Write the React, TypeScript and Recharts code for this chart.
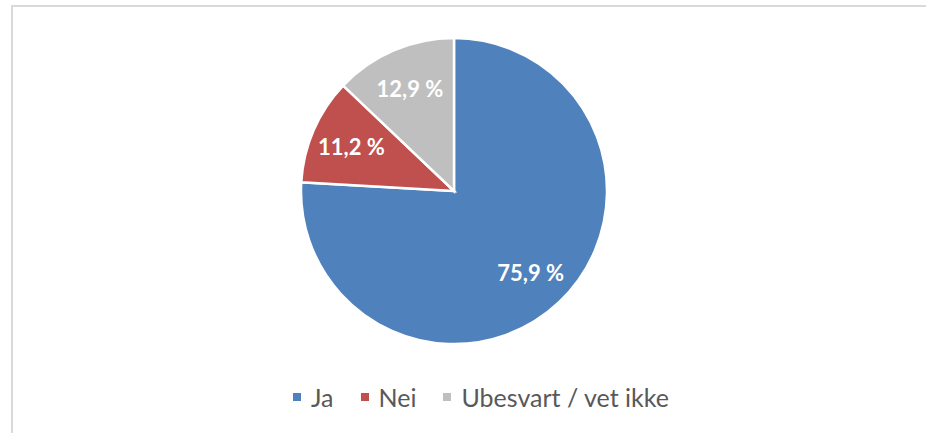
import React from 'react';
import { PieChart, Pie, Cell } from 'recharts';

const categories = ['Ja', 'Nei', 'Ubesvart / vet ikke'];
const shares = [75.9, 11.2, 12.9];
const colors = ['#4F81BD', '#C0504D', '#BFBFBF'];

const data = categories.map((name, i) => ({ name, value: shares[i] }));

const FONT = 'Lato, "Open Sans", sans-serif';
const RADIAN = Math.PI / 180;

const renderLabel = ({ cx, cy, midAngle, outerRadius, value }: any) => {
  const r = outerRadius * 0.73;
  const x = cx + r * Math.cos(-midAngle * RADIAN);
  const y = cy + r * Math.sin(-midAngle * RADIAN);
  return (
    <text
      x={x}
      y={y}
      fill="#ffffff"
      textAnchor="middle"
      dominantBaseline="central"
      fontFamily={FONT}
      fontWeight={700}
      fontSize={22}
    >
      {`${value.toFixed(1).replace('.', ',')} %`}
    </text>
  );
};

export default function App() {
  return (
    <div style={{ position: 'absolute', left: 0, top: 0, width: 926, height: 433, background: '#fff', overflow: 'hidden' }}>
      {/* frame of the original chart area, cut off on the right and bottom */}
      <div
        style={{
          position: 'absolute',
          left: 11,
          top: 5,
          width: 940,
          height: 450,
          borderLeft: '2px solid #d9d9d9',
          borderTop: '2px solid #d9d9d9',
        }}
      />
      <PieChart
        width={926}
        height={433}
        margin={{ top: 0, right: 0, bottom: 0, left: 0 }}
        style={{ position: 'absolute', left: 0, top: 0 }}
      >
        <Pie
          data={data}
          dataKey="value"
          nameKey="name"
          cx={454}
          cy={191}
          outerRadius={153}
          startAngle={90}
          endAngle={-270}
          stroke="#ffffff"
          strokeWidth={2.5}
          label={renderLabel}
          labelLine={false}
          isAnimationActive={false}
        >
          {data.map((d, i) => (
            <Cell key={d.name} fill={colors[i]} />
          ))}
        </Pie>
      </PieChart>
      {/* legend */}
      <div
        style={{
          position: 'absolute',
          left: 293,
          top: 381,
          display: 'flex',
          fontFamily: FONT,
          fontSize: 25,
          lineHeight: '32px',
          color: '#595959',
        }}
      >
        {categories.map((c, i) => (
          <div key={c} style={{ display: 'flex', alignItems: 'center', marginRight: i < categories.length - 1 ? 27 : 0 }}>
            <span style={{ width: 8, height: 8, background: colors[i], marginRight: 10, display: 'inline-block' }} />
            <span>{c}</span>
          </div>
        ))}
      </div>
    </div>
  );
}
